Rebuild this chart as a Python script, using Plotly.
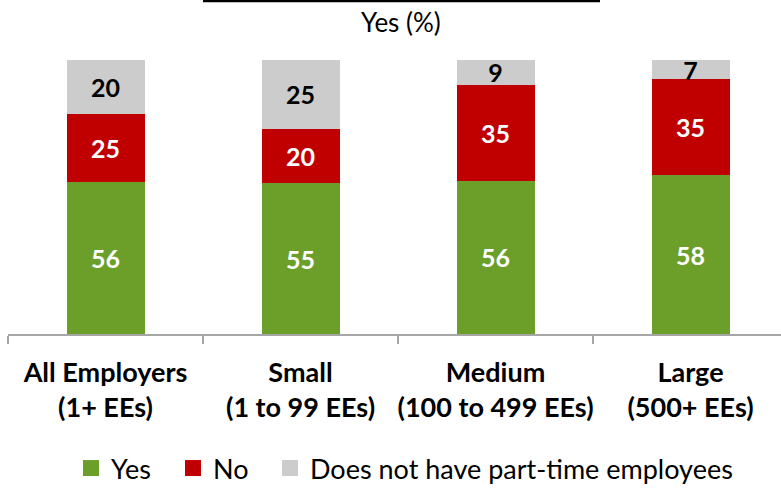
import plotly.graph_objects as go

categories = ["All Employers<br>(1+ EEs)", "Small<br>(1 to 99 EEs)",
              "Medium<br>(100 to 499 EEs)", "Large<br>(500+ EEs)"]
yes_vals = [56, 55, 56, 58]
no_vals = [25, 20, 35, 35]
none_vals = [20, 25, 9, 7]

series = [
    ("Yes", yes_vals, "#6B9F2A", "white"),
    ("No", no_vals, "#C00000", "white"),
    ("Does not have part-time employees", none_vals, "#CCCCCC", "black"),
]

FONT = "Lato"
W, H = 781, 493
fig = go.Figure()
for name, vals, color, tcolor in series:
    fig.add_trace(go.Bar(
        x=categories, y=vals, name=name, marker_color=color,
        marker_line_width=0, width=0.4,
        text=[str(v) for v in vals], textposition="inside", textangle=0,
        insidetextanchor="middle", constraintext="none",
        textfont=dict(family=FONT, size=25, color=tcolor, weight="bold"),
        showlegend=False, cliponaxis=False,
    ))

legend_ids = ["legend", "legend2", "legend3"]
legend_left_px = [71, 173, 270]
for (name, vals, color, tcolor), lid in zip(series, legend_ids):
    fig.add_trace(go.Scatter(
        x=[None], y=[None], mode="markers", name=name,
        marker=dict(symbol="square", size=16, color=color),
        showlegend=True, legend=lid,
    ))

legend_common = dict(
    orientation="h", xref="container", yref="container", xanchor="left",
    y=-8 / H, yanchor="bottom", bgcolor="rgba(0,0,0,0)",
    font=dict(family=FONT, size=27, color="black"),
    itemsizing="trace", itemwidth=30,
)

layout_legends = {lid: dict(legend_common, x=px / W) for lid, px in zip(legend_ids, legend_left_px)}

fig.update_layout(
    width=W, height=H,
    margin=dict(l=8, r=0, t=60, b=159, autoexpand=False),
    barmode="stack", barnorm="percent",
    plot_bgcolor="white", paper_bgcolor="white",
    font=dict(family=FONT, color="black"),
    xaxis=dict(
        range=[-0.5, 3.464], showline=True, linecolor="#A6A6A6", linewidth=1.5,
        ticks="outside", tickson="boundaries", ticklen=8, tickcolor="#A6A6A6",
        tickwidth=1.5, tickangle=0, automargin=False,
        tickfont=dict(family=FONT, size=27, weight="bold", color="black"),
        showgrid=False, zeroline=False, ticklabelstandoff=14,
    ),
    yaxis=dict(range=[0, 100], visible=False, showgrid=False, zeroline=False),
    annotations=[dict(
        text="Yes (%)", xref="paper", yref="paper", x=0.508, y=1.0 + (60 - 22) / 274,
        xanchor="center", yanchor="middle", showarrow=False,
        font=dict(family=FONT, size=26, color="black"),
    )],
    shapes=[dict(
        type="line", xref="paper", yref="paper",
        x0=(203 - 8) / 773, x1=(600 - 8) / 773,
        y0=1.0 + 59 / 274, y1=1.0 + 59 / 274,
        line=dict(color="black", width=2.5),
    )],
    **layout_legends,
)

fig.write_html("out.html", config={"displayModeBar": False},
               post_script="document.body.style.margin='0';")
